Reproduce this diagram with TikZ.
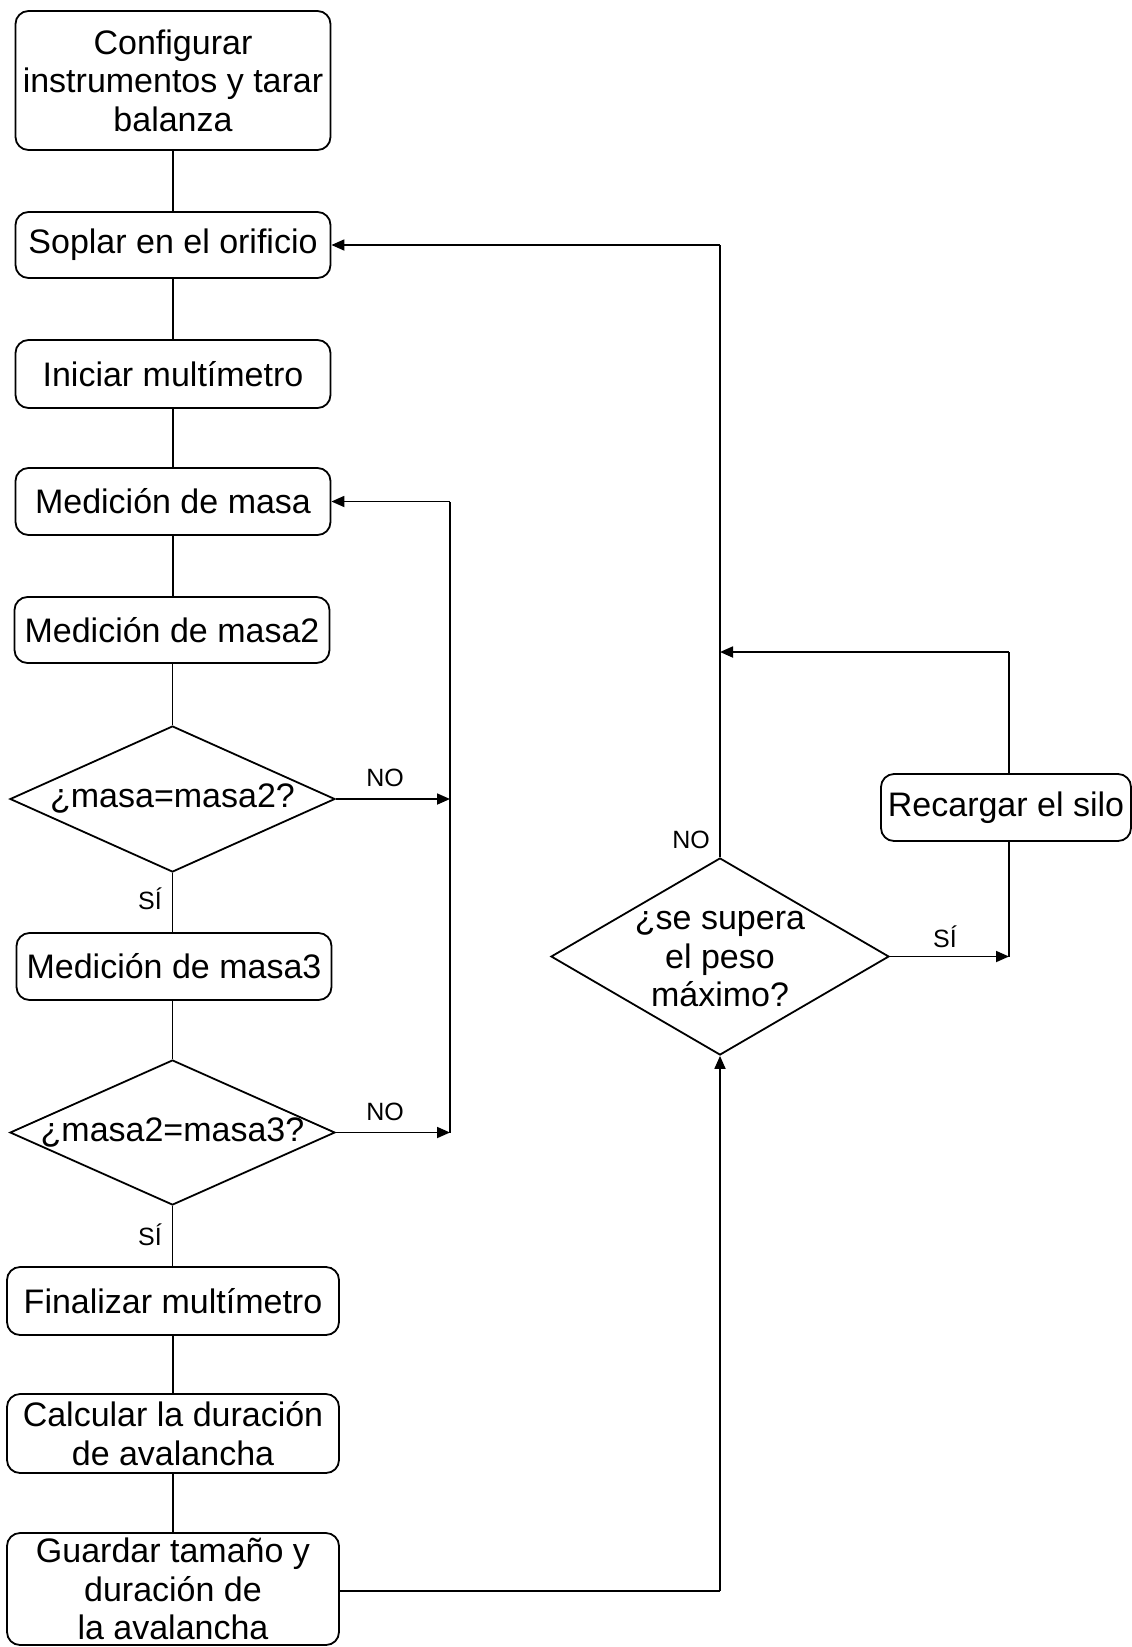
\documentclass[tikz,border=0pt]{standalone}
\usepackage{fontspec}
\setmainfont{Liberation Sans}
\usetikzlibrary{arrows.meta,shapes.geometric}
\begin{document}
\begin{tikzpicture}[x=1pt,y=-1pt,
  box/.style={draw, rounded corners=13pt, line width=1.8pt, align=center, inner sep=0pt, font=\fontsize{34}{38.5}\selectfont},
  dia/.style={draw, diamond, line width=1.8pt, inner sep=0pt},
  ln/.style={line width=1.8pt},
  arr/.style={line width=1.8pt, -{Triangle[length=13pt,width=11pt]}},
  lab/.style={font=\fontsize{25}{28}\selectfont, inner sep=0pt},
  txt/.style={font=\fontsize{34}{38.5}\selectfont, align=center, inner sep=0pt}
]
\useasboundingbox (0,0) rectangle (1132,1647);

% left column
\node[box, minimum width=315pt, minimum height=139pt] (conf) at (173,80.5) {Configurar\\instrumentos y tarar\\balanza};
\node[box, minimum width=315pt, minimum height=66pt] (soplar) at (173,245) {Soplar en el orificio};
\node[box, minimum width=315pt, minimum height=68pt] (iniciar) at (173,374) {Iniciar multímetro};
\node[box, minimum width=315pt, minimum height=67pt] (masa) at (173,501.5) {Medición de masa};
\node[box, minimum width=315pt, minimum height=66pt] (masa2) at (172,630) {Medición de masa2};
\node[dia, minimum width=325pt, minimum height=146pt, label={[txt]center:{¿masa=masa2?}}] (d1) at (172.5,799) {};
\node[box, minimum width=315pt, minimum height=67pt] (masa3) at (174,966.5) {Medición de masa3};
\node[dia, minimum width=325pt, minimum height=145pt, label={[txt]center:{¿masa2=masa3?}}] (d2) at (172.5,1132.5) {};
\node[box, minimum width=332pt, minimum height=68pt] (final) at (173,1301) {Finalizar multímetro};
\node[box, minimum width=332pt, minimum height=79pt] (calc) at (173,1433.5) {Calcular la duración\\de avalancha};
\node[box, minimum width=332pt, minimum height=112pt] (guardar) at (173,1589) {Guardar tamaño y\\duración de\\la avalancha};

% right part
\node[dia, minimum width=338pt, minimum height=197pt, label={[txt,yshift=-3pt]center:{¿se supera\\el peso\\máximo?}}] (d3) at (720,956.5) {};
\node[box, minimum width=250pt, minimum height=67pt] (recargar) at (1006,807.5) {Recargar el silo};

% coordinates
\coordinate (j1) at (450,799);
\coordinate (j2) at (450,1132.5);
\coordinate (j3) at (450,501.5);
\coordinate (g1) at (720,1591);
\coordinate (t1) at (720,245);
\coordinate (r1) at (1009,956.5);
\coordinate (r2) at (1009,652);
\coordinate (r3) at (720,652);

% vertical chain
\draw[ln] (conf.south) -- (soplar.north);
\draw[ln] (soplar.south) -- (iniciar.north);
\draw[ln] (iniciar.south) -- (masa.north);
\draw[ln] (masa.south) -- (masa.south |- masa2.north);
\draw[ln] (masa2.south -| d1.north) -- (d1.north);
\draw[ln] (d1.south) -- (d1.south |- masa3.north);
\draw[ln] (d1.south |- masa3.south) -- (d2.north);
\draw[ln] (d2.south) -- (d2.south |- final.north);
\draw[ln] (final.south) -- (calc.north);
\draw[ln] (calc.south) -- (guardar.north);

% loop back to masa
\draw[arr] (d1.east) -- (j1);
\draw[arr] (d2.east) -- (j2);
\draw[ln] (j2) -- (j3);
\draw[arr] (j3) -- (masa.east);

% right loops
\draw[ln] (guardar.east |- g1) -- (g1);
\draw[arr] (g1) -- (d3.south);
\draw[ln] (d3.north) -- (t1);
\draw[arr] (t1) -- (soplar.east);
\draw[arr] (d3.east) -- (r1);
\draw[ln] (r1) -- (r1 |- recargar.south);
\draw[ln] (r1 |- recargar.north) -- (r2);
\draw[arr] (r2) -- (r3);

% labels
\node[lab] (no1) at (385,778) {NO};
\node[lab] (no2) at (385,1112) {NO};
\node[lab] (si1) at (150,899) {SÍ};
\node[lab] (si2) at (150,1235) {SÍ};
\node[lab] (no3) at (691,840) {NO};
\node[lab] (si3) at (945,937) {SÍ};
\end{tikzpicture}
\end{document}
